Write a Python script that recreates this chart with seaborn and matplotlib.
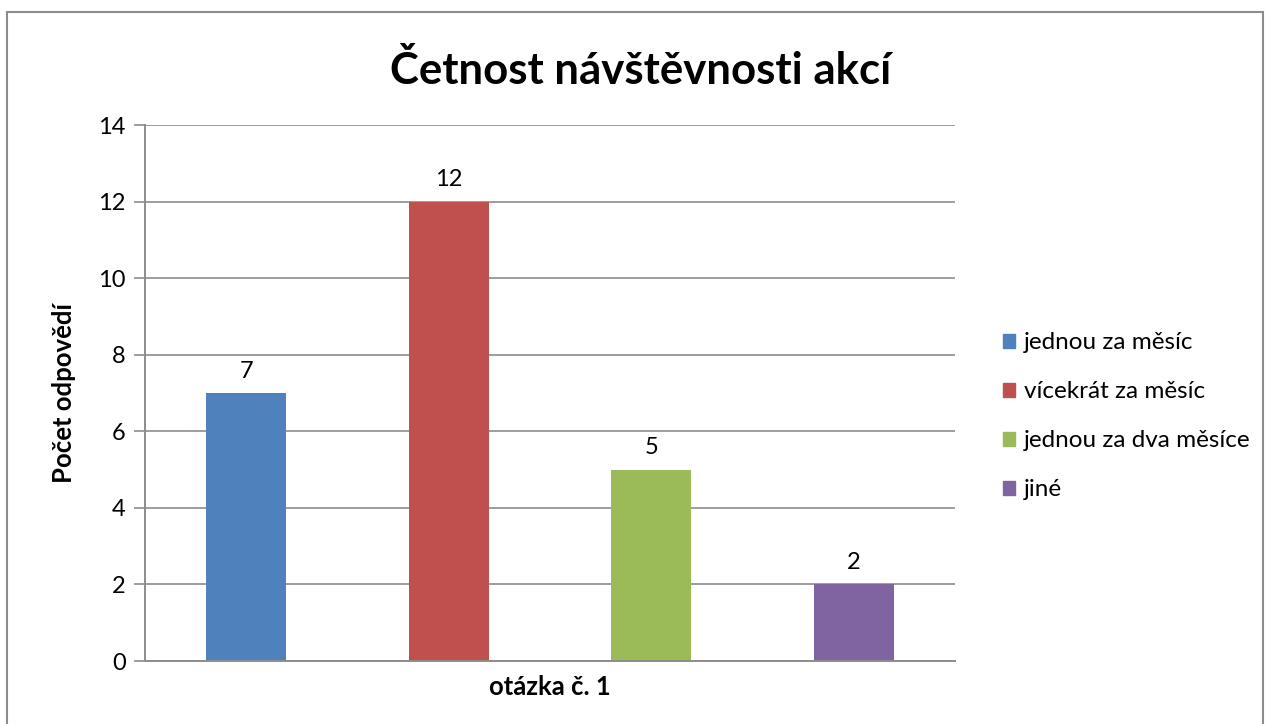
import matplotlib
matplotlib.use("Agg")
import matplotlib.pyplot as plt
import matplotlib.patches as mpatches
import seaborn as sns
import pandas as pd

# ── Data ───────────────────────────────────────────────────────────────────────
CATEGORIES = ["jednou za měsíc", "vícekrát za měsíc", "jednou za dva měsíce", "jiné"]
COUNTS = [7, 12, 5, 2]
COLORS = ["#4F81BD", "#C0504D", "#9BBB59", "#8064A2"]
Y_TICKS = [0, 2, 4, 6, 8, 10, 12, 14]

TITLE = "Četnost návštěvnosti akcí"
X_LABEL = "otázka č. 1"
Y_LABEL = "Počet odpovědí"

# ── Setup ──────────────────────────────────────────────────────────────────────
sns.set_theme(style="white")
plt.rcParams["font.family"] = ["Lato", "DejaVu Sans"]
plt.rcParams.update({"text.color": "black", "axes.labelcolor": "black",
                     "xtick.labelcolor": "black", "ytick.labelcolor": "black"})

df = pd.DataFrame({"kategorie": CATEGORIES, "pocet": COUNTS})

fig = plt.figure(figsize=(12.68, 7.24), dpi=100, facecolor="white")
ax = fig.add_axes([0.1144, 0.087, 0.6388, 0.7403])

sns.barplot(data=df, x="kategorie", y="pocet", hue="kategorie",
            palette=COLORS, width=0.395, saturation=1, legend=False,
            linewidth=0, ax=ax)

for cont in ax.containers:
    ax.bar_label(cont, fmt="%d", padding=8, fontsize=17, color="black")

ax.set_ylim(0, 14)
ax.set_xlim(-0.5, 3.5)
ax.set_yticks(Y_TICKS)
ax.set_yticklabels([str(t) for t in Y_TICKS], fontsize=17)
ax.set_xticks([])
ax.yaxis.grid(True, color="#8c8c8c", linewidth=1.2)
ax.set_axisbelow(True)
ax.tick_params(axis="y", length=8, width=1.2, color="#8c8c8c", pad=6, left=True)

for side in ["top", "right"]:
    ax.spines[side].set_visible(False)
for side in ["left", "bottom"]:
    ax.spines[side].set_color("#8c8c8c")
    ax.spines[side].set_linewidth(1.4)

ax.set_xlabel(X_LABEL, fontsize=18.5, fontweight="bold", labelpad=10)
ax.set_ylabel(Y_LABEL, fontsize=18.5, fontweight="bold", labelpad=16)

fig.text(0.505, 0.903, TITLE, ha="center", va="center",
         fontsize=31.5, fontweight="bold", color="black")

handles = [mpatches.Patch(color=c, label=l) for c, l in zip(COLORS, CATEGORIES)]
fig.legend(handles=handles, loc="center left", bbox_to_anchor=(0.774, 0.425),
           frameon=False, fontsize=17.5, handlelength=0.5, handleheight=0.5,
           handletextpad=0.35, labelspacing=1.15)

# figure border
fig.patches.append(mpatches.Rectangle((0.0055, -0.05), 0.9905, 1.034,
                                      transform=fig.transFigure, fill=False,
                                      edgecolor="#8c8c8c", linewidth=1.5))

fig.savefig("out.png", dpi=100, facecolor="white")
